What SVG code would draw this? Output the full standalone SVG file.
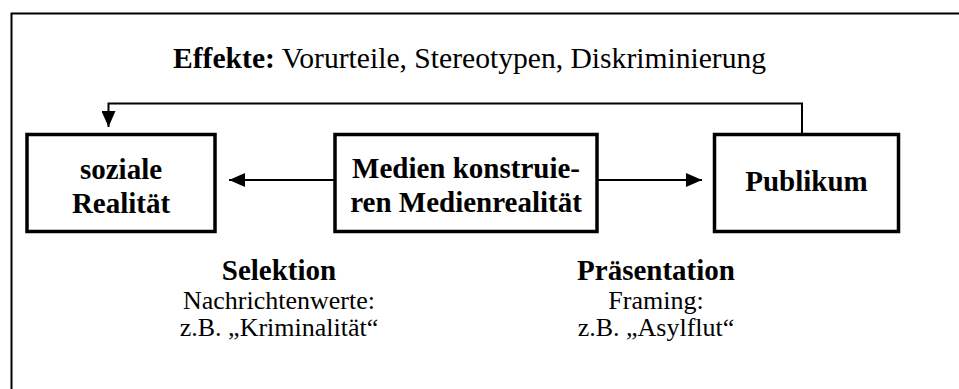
<svg xmlns="http://www.w3.org/2000/svg" width="959" height="389" viewBox="0 0 959 389">
<defs>
<style>
.t{font-family:"Liberation Serif","Times New Roman",serif;fill:#000}
.b{font-weight:bold;font-size:29px}
.e{font-size:29.6px}
.s{font-size:26px}
.box{fill:#fff;stroke:#000;stroke-width:3.5}
.ln{fill:none;stroke:#000;stroke-width:2}
</style>
<marker id="ah" viewBox="0 0 16 14" refX="16" refY="7" markerWidth="16" markerHeight="14" markerUnits="userSpaceOnUse" orient="auto">
<path d="M0,0 L16,7 L0,14 Z" fill="#000"/>
</marker>
</defs>
<rect width="959" height="389" fill="#fff"/>
<rect x="11.5" y="13.5" width="1000" height="420" fill="none" stroke="#000" stroke-width="2"/>
<text class="t e" x="173" y="68"><tspan font-weight="bold">Effekte:</tspan> Vorurteile, Stereotypen, Diskriminierung</text>
<g id="connectors">
<path class="ln" d="M802,134 V103.5 H108.5 V127" marker-end="url(#ah)"/>
<path class="ln" d="M335,180 H229" marker-end="url(#ah)"/>
<path class="ln" d="M597,180 H702" marker-end="url(#ah)"/>
</g>
<g id="soziale">
<rect class="box" x="27" y="134.5" width="188" height="97"/>
<text class="t b" text-anchor="middle" x="121" y="179">soziale</text>
<text class="t b" text-anchor="middle" x="121" y="213">Realität</text>
</g>
<g id="medien">
<rect class="box" x="335" y="134.5" width="262" height="97"/>
<text class="t b" text-anchor="middle" x="466" y="178">Medien konstruie-</text>
<text class="t b" text-anchor="middle" x="466" y="212">ren Medienrealität</text>
</g>
<g id="publikum">
<rect class="box" x="714.5" y="134.5" width="184" height="97"/>
<text class="t b" text-anchor="middle" x="806.5" y="191">Publikum</text>
</g>
<g id="selektion">
<text class="t b" text-anchor="middle" x="279" y="280">Selektion</text>
<text class="t s" text-anchor="middle" x="279" y="308.5">Nachrichtenwerte:</text>
<text class="t s" text-anchor="middle" x="279" y="336">z.B. „Kriminalität“</text>
</g>
<g id="praesentation">
<text class="t b" text-anchor="middle" x="656" y="280">Präsentation</text>
<text class="t s" text-anchor="middle" x="656" y="308.5">Framing:</text>
<text class="t s" text-anchor="middle" x="656" y="336">z.B. „Asylflut“</text>
</g>
</svg>
